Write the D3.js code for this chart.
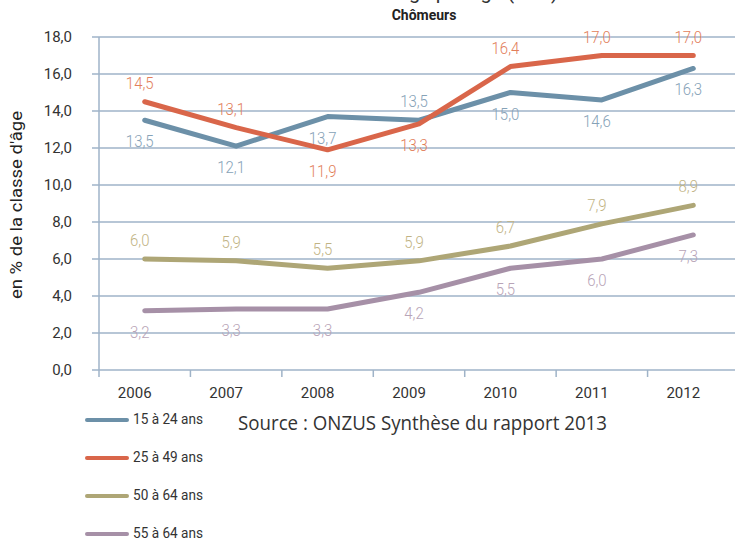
<!DOCTYPE html>
<html lang="fr">
<head>
  <meta charset="UTF-8">
  <title>Chômeurs</title>
  <script src="https://d3js.org/d3.v7.min.js"></script>
</head>
<body style="margin: 0; padding: 0; background-color: white;">
  <svg id="chart" width="735" height="540"></svg>
  <script>
    // Data
    const years = ["2006", "2007", "2008", "2009", "2010", "2011", "2012"];
    const ages15to24 = [13.5, 12.1, 13.7, 13.5, 15.0, 14.6, 16.3];
    const ages25to49 = [14.5, 13.1, 11.9, 13.3, 16.4, 17.0, 17.0];
    const ages50to64 = [6.0, 5.9, 5.5, 5.9, 6.7, 7.9, 8.9];
    const ages55to64 = [3.2, 3.3, 3.3, 4.2, 5.5, 6.0, 7.3];
    const seriesNames = ["15 à 24 ans", "25 à 49 ans", "50 à 64 ans", "55 à 64 ans"];
    const yTicks = [0, 2, 4, 6, 8, 10, 12, 14, 16, 18];

    // where each value label sits: a = above the line, b = below
    const labelSide = [
      ["b", "b", "b", "a", "b", "b", "b"],
      ["a", "a", "b", "b", "a", "a", "a"],
      ["a", "a", "a", "a", "a", "a", "a"],
      ["b", "b", "b", "b", "b", "b", "b"]
    ];

    const lineColors = ["#6c90a8", "#d9664a", "#aea676", "#a690a7"];
    const labelColors = ["#86a2b7", "#e27e5a", "#c1b384", "#b8a4b7"];
    const gridColor = "#9fb3c8";
    const font = "Roboto, 'Liberation Sans', sans-serif";

    const allSeries = [ages15to24, ages25to49, ages50to64, ages55to64];
    const fmt = v => d3.format(".1f")(v).replace(".", ",");

    const svg = d3.select("#chart");

    const x = d3.scaleBand().domain(years).range([99, 739]);
    const y = d3.scaleLinear().domain([0, 18]).range([370, 37]);

    // narrow text: place at (px, py) and squeeze horizontally
    const narrow = (sel, px, py, sx) =>
      sel.attr("transform", (d, i) => `translate(${px(d, i)}, ${py(d, i)}) scale(${sx}, 1)`);

    // cut-off title at the top
    svg.append("text")
      .attr("x", 558).attr("y", -1)
      .attr("text-anchor", "end")
      .style("font-family", font)
      .style("font-size", "20px")
      .style("fill", "#333")
      .text("Taux de chômage par âge (ZUS)");

    svg.append("text")
      .attr("x", 424).attr("y", 20)
      .attr("text-anchor", "middle")
      .style("font-family", font)
      .style("font-size", "14px")
      .style("font-weight", "bold")
      .style("fill", "#222")
      .text("Chômeurs");

    // horizontal grid lines
    svg.append("g")
      .selectAll("line")
      .data(yTicks)
      .enter().append("line")
      .attr("x1", 92).attr("x2", 735)
      .attr("y1", d => y(d)).attr("y2", d => y(d))
      .style("stroke", gridColor)
      .style("stroke-width", 1.5);

    // y axis line
    svg.append("line")
      .attr("x1", x.range()[0]).attr("x2", x.range()[0])
      .attr("y1", y(18)).attr("y2", y(0) + 7)
      .style("stroke", gridColor)
      .style("stroke-width", 1.5);

    // x ticks at band boundaries
    svg.append("g")
      .selectAll("line")
      .data(years.slice(1))
      .enter().append("line")
      .attr("x1", d => x(d)).attr("x2", d => x(d))
      .attr("y1", y(0)).attr("y2", y(0) + 7)
      .style("stroke", gridColor)
      .style("stroke-width", 1.5);

    // y tick labels
    svg.append("g")
      .selectAll("text")
      .data(yTicks)
      .enter().append("text")
      .attr("x", 72).attr("y", d => y(d) + 5)
      .attr("text-anchor", "end")
      .style("font-family", font)
      .style("font-size", "15px")
      .style("fill", "#333")
      .text(d => fmt(d));

    // x tick labels
    svg.append("g")
      .selectAll("text")
      .data(years)
      .enter().append("text")
      .attr("x", d => x(d) + x.bandwidth() / 2 - 10)
      .attr("y", 398)
      .attr("text-anchor", "middle")
      .style("font-family", font)
      .style("font-size", "15px")
      .style("fill", "#333")
      .text(d => d);

    // y axis title
    svg.append("text")
      .attr("transform", "translate(22, 205) rotate(-90)")
      .attr("text-anchor", "middle")
      .attr("textLength", 188)
      .attr("lengthAdjust", "spacingAndGlyphs")
      .style("font-family", font)
      .style("font-size", "16px")
      .style("fill", "#222")
      .text("en % de la classe d'âge");

    // lines
    const line = d3.line()
      .x((d, i) => x(years[i]) + x.bandwidth() / 2)
      .y(d => y(d));

    svg.append("g")
      .selectAll("path")
      .data(allSeries)
      .enter().append("path")
      .attr("d", line)
      .style("fill", "none")
      .style("stroke", (d, i) => lineColors[i])
      .style("stroke-width", 5)
      .style("stroke-linecap", "round")
      .style("stroke-linejoin", "round");

    // value labels
    allSeries.forEach((values, s) => {
      svg.append("g")
        .selectAll("text")
        .data(values)
        .enter().append("text")
        .call(narrow,
          (d, i) => x(years[i]) + x.bandwidth() / 2 - 5,
          (d, i) => labelSide[s][i] === "a" ? y(d) - 13 : y(d) + 27,
          0.88)
        .attr("text-anchor", "middle")
        .style("font-family", font)
        .style("font-size", "17px")
        .style("font-weight", 300)
        .style("fill", labelColors[s])
        .text(d => fmt(d));
    });

    // legend
    const legend = svg.append("g")
      .selectAll("g")
      .data(seriesNames)
      .enter().append("g")
      .attr("transform", (d, i) => `translate(0, ${420 + i * 38})`);

    legend.append("line")
      .attr("x1", 87).attr("x2", 127)
      .attr("y1", 0).attr("y2", 0)
      .style("stroke", (d, i) => lineColors[i])
      .style("stroke-width", 4)
      .style("stroke-linecap", "round");

    legend.append("text")
      .attr("x", 133).attr("y", 4)
      .attr("textLength", 70)
      .attr("lengthAdjust", "spacingAndGlyphs")
      .style("font-family", font)
      .style("font-size", "14px")
      .style("fill", "#333")
      .text(d => d);

    // source note
    svg.append("text")
      .attr("x", 238).attr("y", 430)
      .attr("textLength", 369)
      .attr("lengthAdjust", "spacingAndGlyphs")
      .style("font-family", "'Open Sans', sans-serif")
      .style("font-size", "20px")
      .style("fill", "#333")
      .text("Source : ONZUS Synthèse du rapport 2013");
  </script>
</body>
</html>
